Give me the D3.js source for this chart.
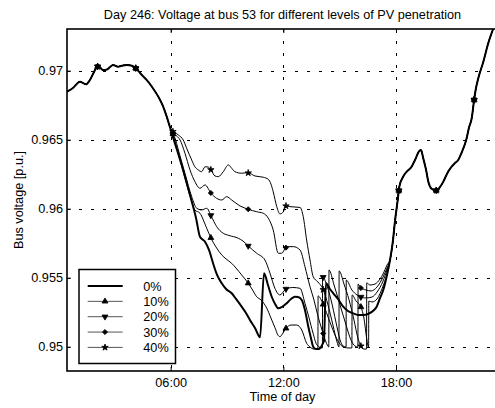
<!DOCTYPE html>
<html><head><meta charset="utf-8">
<script src="https://cdn.jsdelivr.net/npm/d3@7"></script>
<style>
body{margin:0;background:#fff}
svg{display:block}
text{font-family:"Liberation Sans",Arial,Helvetica,sans-serif;fill:#000}
</style>
</head><body>
<svg id="c" width="495" height="408"></svg>
<script>
// ---------- data (hours of day, bus voltage in p.u.) ----------
const commonHours = [0.48,0.80,1.17,1.49,1.70,1.92,2.13,2.40,2.61,2.93,3.20,3.46,3.67,3.94,4.15,4.37,4.72,5.01,5.34,5.59,5.79,5.96];
const commonVolts = [0.96848,0.96875,0.96920,0.96901,0.96933,0.96991,0.97034,0.97005,0.97009,0.97041,0.97029,0.97038,0.97041,0.97036,0.97017,0.96983,0.96933,0.96882,0.96812,0.96744,0.96667,0.96592];

const tailHours = [17.68,17.84,17.94,18.09,18.17,18.37,18.57,18.83,19.01,19.24,19.33,19.45,19.60,19.72,19.91,20.13,20.34,20.52,20.71,20.96,21.14,21.31,21.51,21.76,21.88,22.03,22.17,22.26,22.38,22.65,22.91,23.15,23.38];
const tailVolts = [0.95628,0.95773,0.95904,0.96063,0.96155,0.96230,0.96268,0.96304,0.96353,0.96418,0.96425,0.96365,0.96281,0.96196,0.96143,0.96131,0.96157,0.96196,0.96252,0.96304,0.96331,0.96353,0.96411,0.96510,0.96585,0.96655,0.96800,0.96875,0.96945,0.97065,0.97199,0.97295,0.97382];

const hours0 = [6.12,6.34,6.66,7.03,7.35,7.56,7.83,8.04,8.27,8.47,8.72,8.95,9.25,9.48,9.78,10.01,10.22,10.49,10.76,10.97,11.18,11.38,11.56,11.73,11.93,12.18,12.41,12.62,12.78,12.98,13.15,13.33,13.47,13.59,13.74,13.90,14.11,14.16,14.27,14.48,14.66,14.91,15.19,15.44,15.72,15.97,16.26,16.51,16.83,16.97,17.15,17.32,17.52];
const volts0 = [0.96520,0.96425,0.96281,0.96099,0.95933,0.95797,0.95761,0.95701,0.95599,0.95520,0.95460,0.95418,0.95387,0.95346,0.95290,0.95244,0.95194,0.95136,0.95068,0.95532,0.95447,0.95362,0.95310,0.95278,0.95288,0.95315,0.95346,0.95362,0.95360,0.95339,0.95266,0.95145,0.95063,0.95000,0.94983,0.94983,0.95025,0.95041,0.95460,0.95418,0.95387,0.95346,0.95290,0.95259,0.95242,0.95230,0.95230,0.95237,0.95266,0.95290,0.95353,0.95411,0.95520];

const hours10 = [6.12,6.28,6.50,6.76,7.03,7.29,7.56,7.92,8.15,8.41,8.72,8.95,9.25,9.48,9.78,10.13,10.33,10.58,10.81,11.11,11.34,11.56,11.71,11.82,11.95,12.14,12.41,12.71,12.98,13.24,13.42,13.63,13.84,13.85,14.11,14.48,14.80,15.12,15.44,15.65,15.66,15.87,16.13,16.29,16.45,16.54,16.55,16.72,16.99,17.31,17.52];
const volts10 = [0.96541,0.96462,0.96353,0.96223,0.96092,0.95991,0.95967,0.95858,0.95786,0.95723,0.95665,0.95636,0.95604,0.95570,0.95520,0.95460,0.95418,0.95362,0.95339,0.95281,0.95208,0.95136,0.95085,0.95073,0.95092,0.95133,0.95157,0.95157,0.95121,0.95025,0.94998,0.94983,0.94991,0.95368,0.95310,0.95179,0.95070,0.95005,0.94991,0.94991,0.95375,0.95331,0.95288,0.95208,0.95049,0.94991,0.95331,0.95324,0.95346,0.95440,0.95527];

const hours20 = [6.12,6.23,6.41,6.76,7.12,7.39,7.65,7.92,8.15,8.45,8.80,9.11,9.60,9.85,10.13,10.58,11.02,11.29,11.55,11.82,12.14,12.51,12.89,13.15,13.37,13.58,13.79,14.08,14.09,14.27,14.54,14.80,15.02,15.18,15.34,15.35,15.65,15.92,16.13,16.40,16.72,16.99,17.31,17.52];
const volts20 = [0.96538,0.96512,0.96425,0.96257,0.96087,0.96003,0.95991,0.96003,0.95949,0.95870,0.95822,0.95806,0.95786,0.95766,0.95730,0.95677,0.95628,0.95532,0.95423,0.95375,0.95418,0.95429,0.95423,0.95315,0.95208,0.95099,0.95012,0.94991,0.95512,0.95462,0.95339,0.95179,0.95049,0.95005,0.94998,0.95483,0.95411,0.95375,0.95360,0.95353,0.95360,0.95396,0.95476,0.95556];

const hours30 = [6.12,6.32,6.50,6.76,7.03,7.29,7.56,7.83,8.15,8.45,8.72,8.98,9.25,9.69,10.13,10.58,10.93,11.20,11.46,11.73,11.91,12.18,12.53,12.89,13.15,13.42,13.63,13.84,14.06,14.27,14.42,14.43,14.70,15.02,15.34,15.60,15.81,15.97,15.98,16.13,16.40,16.67,16.99,17.31,17.52];
const volts30 = [0.96546,0.96527,0.96498,0.96402,0.96281,0.96196,0.96148,0.96172,0.96112,0.96075,0.96063,0.96087,0.96063,0.96020,0.95996,0.95978,0.95967,0.95931,0.95846,0.95677,0.95677,0.95725,0.95725,0.95701,0.95580,0.95435,0.95339,0.95223,0.95121,0.95034,0.94998,0.95556,0.95447,0.95302,0.95157,0.95049,0.95005,0.94998,0.95454,0.95425,0.95411,0.95404,0.95433,0.95505,0.95570];

const hours40 = [6.12,6.23,6.41,6.67,6.85,7.12,7.29,7.47,7.65,7.83,7.99,8.15,8.36,8.54,8.80,9.07,9.25,9.42,9.78,10.10,10.49,10.93,11.20,11.34,11.46,11.65,11.82,12.00,12.14,12.35,12.89,13.06,13.24,13.42,13.59,13.84,14.11,14.38,14.64,14.86,14.96,14.97,15.23,15.50,15.76,15.97,16.13,16.29,16.43,16.44,16.61,16.88,17.15,17.31,17.52];
const volts40 = [0.96559,0.96551,0.96534,0.96498,0.96438,0.96353,0.96304,0.96281,0.96268,0.96304,0.96302,0.96281,0.96237,0.96232,0.96268,0.96317,0.96293,0.96268,0.96257,0.96261,0.96237,0.96228,0.96213,0.96179,0.96123,0.96015,0.95962,0.95978,0.96020,0.96015,0.96009,0.95942,0.95773,0.95628,0.95507,0.95469,0.95418,0.95302,0.95157,0.95034,0.94998,0.95549,0.95454,0.95339,0.95194,0.95063,0.95005,0.94983,0.94983,0.95462,0.95447,0.95454,0.95491,0.95527,0.95592];

const seriesNames = ["0%","10%","20%","30%","40%"];
const markerHours = [2.11,4.14,6.12,8.14,10.13,12.14,14.12,16.13,18.15,20.14,22.16];
const xLimits = [0.48, 23.43];
const yLimits = [0.94824, 0.97302];
const xTickHours = [6,12,18];
const xTickLabels = ["06:00","12:00","18:00"];
const yTickValues = [0.95,0.955,0.96,0.965,0.97];
const yTickLabels = ["0.95","0.955","0.96","0.965","0.97"];
const titleText = "Day 246: Voltage at bus 53 for different levels of PV penetration";
const xLabelText = "Time of day";
const yLabelText = "Bus voltage [p.u.]";

// ---------- layout ----------
const L = 67, T = 29, R = 498, B = 371;
const FS = "12.7px";
const svg = d3.select("#c");
svg.append("rect").attr("width",495).attr("height",408).attr("fill","#fff");

const x = d3.scaleLinear().domain(xLimits).range([L, R]);
const y = d3.scaleLinear().domain(yLimits).range([B, T]);

svg.append("defs").append("clipPath").attr("id","clip")
  .append("rect").attr("x",L).attr("y",T).attr("width",R-L).attr("height",B-T);

// grid
const grid = svg.append("g").attr("stroke","#000").attr("stroke-width",1).attr("stroke-dasharray","3,9");
grid.selectAll("line.gx").data(xTickHours).join("line")
  .attr("x1",d=>Math.round(x(d))+0.5).attr("x2",d=>Math.round(x(d))+0.5).attr("y1",T).attr("y2",B);
grid.selectAll("line.gy").data(yTickValues).join("line").attr("class","gy")
  .attr("y1",d=>Math.round(y(d))+0.5).attr("y2",d=>Math.round(y(d))+0.5).attr("x1",L).attr("x2",R);

// series
function build(h, v){
  return d3.zip(commonHours.concat(h, tailHours), commonVolts.concat(v, tailVolts));
}
const series = [
  {name:seriesNames[0], pts:build(hours0, volts0), w:2.0, sym:null},
  {name:seriesNames[1], pts:build(hours10, volts10), w:1, sym:"up"},
  {name:seriesNames[2], pts:build(hours20, volts20), w:1, sym:"down"},
  {name:seriesNames[3], pts:build(hours30, volts30), w:1, sym:"diamond"},
  {name:seriesNames[4], pts:build(hours40, volts40), w:1, sym:"star"}
];
const line = d3.line().x(d=>x(d[0])).y(d=>y(d[1])).curve(d3.curveMonotoneX);
const plot = svg.append("g").attr("clip-path","url(#clip)");

function symPath(kind){
  if(kind==="up" || kind==="down") return d3.symbol(d3.symbolTriangle, 15)();
  if(kind==="diamond") return d3.symbol(d3.symbolSquare, 13)();
  if(kind==="star") return d3.symbol(d3.symbolStar, 13)();
  return null;
}
function symTransform(kind, px, py){
  return `translate(${px},${py})` + (kind==="down" ? " rotate(180)" : kind==="diamond" ? " rotate(45)" : "");
}
function interp(pts, t){
  const i = d3.bisector(d=>d[0]).left(pts, t);
  if(i<=0) return pts[0][1];
  if(i>=pts.length) return pts[pts.length-1][1];
  const a = pts[i-1], b = pts[i];
  return a[1] + (b[1]-a[1])*(t-a[0])/(b[0]-a[0]);
}

// thin lines first, thick 0% line on top
[1,2,3,4,0].forEach(k=>{
  const s = series[k];
  plot.append("path").datum(s.pts).attr("d",line)
    .attr("fill","none").attr("stroke","#000").attr("stroke-width",s.w)
    .attr("stroke-linejoin","round");
});
[1,2,3,4].forEach(k=>{
  const s = series[k];
  plot.selectAll(null).data(markerHours).join("path")
    .attr("d",symPath(s.sym))
    .attr("transform",t=>symTransform(s.sym, x(t), y(interp(s.pts,t))))
    .attr("fill","#000").attr("stroke","#000").attr("stroke-width",0.8);
});

// axes
const xAxis = d3.axisBottom(x).tickValues(xTickHours).tickFormat((d,i)=>xTickLabels[i])
  .tickSizeInner(-4).tickSizeOuter(0).tickPadding(7);
const gx = svg.append("g").attr("transform",`translate(0,${B})`).call(xAxis);
gx.select(".domain").remove();
gx.selectAll("text").style("font-size",FS).style("font-family","'Liberation Sans',Arial,sans-serif").attr("fill","#000");
gx.selectAll("line").attr("stroke","#000");

const xAxisTop = d3.axisTop(x).tickValues(xTickHours).tickFormat("").tickSizeInner(-4).tickSizeOuter(0);
const gxt = svg.append("g").attr("transform",`translate(0,${T})`).call(xAxisTop);
gxt.select(".domain").remove();

const yAxis = d3.axisLeft(y).tickValues(yTickValues).tickFormat((d,i)=>yTickLabels[i])
  .tickSizeInner(-4).tickSizeOuter(0).tickPadding(4);
const gy = svg.append("g").attr("transform",`translate(${L},0)`).call(yAxis);
gy.select(".domain").remove();
gy.selectAll("text").style("font-size",FS).style("font-family","'Liberation Sans',Arial,sans-serif").attr("fill","#000");
gy.selectAll("line").attr("stroke","#000");

// box
svg.append("rect").attr("x",L).attr("y",T).attr("width",R-L).attr("height",B-T)
  .attr("fill","none").attr("stroke","#000").attr("stroke-width",1.6);

// title and labels
svg.append("text").attr("x",(L+R)/2).attr("y",19).attr("text-anchor","middle")
  .style("font-size",FS).text(titleText);
svg.append("text").attr("x",(L+R)/2).attr("y",401).attr("text-anchor","middle")
  .style("font-size",FS).text(xLabelText);
svg.append("text").attr("transform",`translate(23,${(T+B)/2}) rotate(-90)`).attr("text-anchor","middle")
  .style("font-size",FS).text(yLabelText);

// legend
const lg = svg.append("g");
lg.append("rect").attr("x",79).attr("y",269.5).attr("width",96.5).attr("height",94)
  .attr("fill","#fff").attr("stroke","#000").attr("stroke-width",1.5);
series.forEach((s,i)=>{
  const ry = 286 + i*15.35;
  lg.append("line").attr("x1",87.7).attr("x2",122.7).attr("y1",ry).attr("y2",ry)
    .attr("stroke",s.sym ? "#555" : "#000").attr("stroke-width",s.w);
  if(s.sym){
    lg.append("path").attr("d",symPath(s.sym)).attr("transform",symTransform(s.sym,105,ry))
      .attr("fill","#000").attr("stroke","#000").attr("stroke-width",0.8);
  }
  lg.append("text").attr("x",143.3).attr("y",ry+4.5).style("font-size",FS).text(s.name);
});
</script>
</body></html>
